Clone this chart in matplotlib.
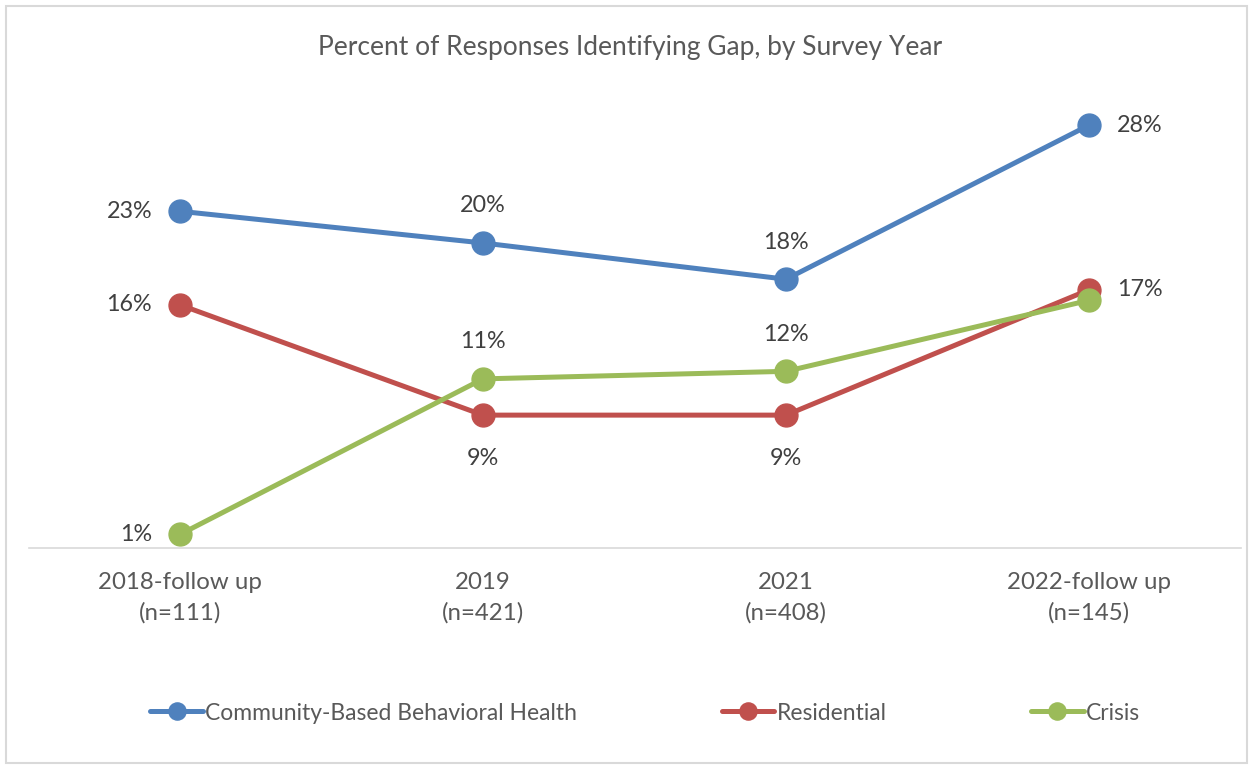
import matplotlib.pyplot as plt
from matplotlib.patches import Rectangle

plt.rcParams['font.family'] = ['Lato', 'DejaVu Sans']

CATEGORIES = ["2018-follow up\n(n=111)", "2019\n(n=421)", "2021\n(n=408)", "2022-follow up\n(n=145)"]
SERIES = ["Community-Based Behavioral Health", "Residential", "Crisis"]
COMMUNITY = [22.3, 20.2, 17.8, 28.0]
RESIDENTIAL = [16.1, 8.8, 8.8, 17.1]
CRISIS = [0.9, 11.2, 11.7, 16.4]
LABELS = {
    "Community-Based Behavioral Health": ["23%", "20%", "18%", "28%"],
    "Residential": ["16%", "9%", "9%", "17%"],
    "Crisis": ["1%", "11%", "12%", None],
}
COLORS = ["#4F81BD", "#C0504D", "#9BBB59"]
PLACE = [["left", "above", "above", "right"],
         ["left", "below", "below", "right"],
         ["left", "above", "above", None]]

OFFS = {"left": (-28, 0, "right", "center"), "right": (28, 0, "left", "center"),
        "above": (0, 37, "center", "center"), "below": (0, -43, "center", "center")}

fig = plt.figure(figsize=(12.53, 7.69), dpi=100)
ax = fig.add_axes([28.5 / 1253, 1 - 548 / 769, 1212 / 1253, (548 - 95) / 769])
x = list(range(len(CATEGORIES)))
for name, vals, col, place in zip(SERIES, [COMMUNITY, RESIDENTIAL, CRISIS], COLORS, PLACE):
    ax.plot(x, vals, color=col, lw=3.6, marker="o", ms=16.5, label=name,
            solid_capstyle="round", clip_on=False)
    for xi, v, lab, p in zip(x, vals, LABELS[name], place):
        if lab is None:
            continue
        dx, dy, ha, va = OFFS[p]
        ax.annotate(lab, (xi, v), xytext=(dx, dy), textcoords="offset pixels",
                    ha=ha, va=va, fontsize=16.8, color="#404040")

ax.set_xlim(-0.5, 3.5)
ax.set_ylim(0, 30)
ax.set_xticks(x)
ax.set_xticklabels(CATEGORIES, fontsize=17.3, color="#595959", linespacing=1.55)
ax.tick_params(axis="x", length=0, pad=17)
ax.set_yticks([])
for s in ["top", "right", "left"]:
    ax.spines[s].set_visible(False)
ax.spines["bottom"].set_color("#D9D9D9")
ax.spines["bottom"].set_linewidth(1.2)

fig.text(0.503, 1 - 47 / 769, "Percent of Responses Identifying Gap, by Survey Year",
         ha="center", va="center", fontsize=19, color="#595959")

leg = fig.legend(loc="center", bbox_to_anchor=(0.515, 1 - 713 / 769), ncol=3, frameon=False,
                 fontsize=16.5, handlelength=2.3, handletextpad=0.1, columnspacing=6.3,
                 markerscale=0.75)
for t in leg.get_texts():
    t.set_color("#595959")

fig.patches.append(Rectangle((6 / 1253, 6 / 769), 1241 / 1253, 757 / 769,
                             transform=fig.transFigure, fill=False,
                             edgecolor="#D9D9D9", lw=1.5))

fig.savefig("out.png", dpi=100)
